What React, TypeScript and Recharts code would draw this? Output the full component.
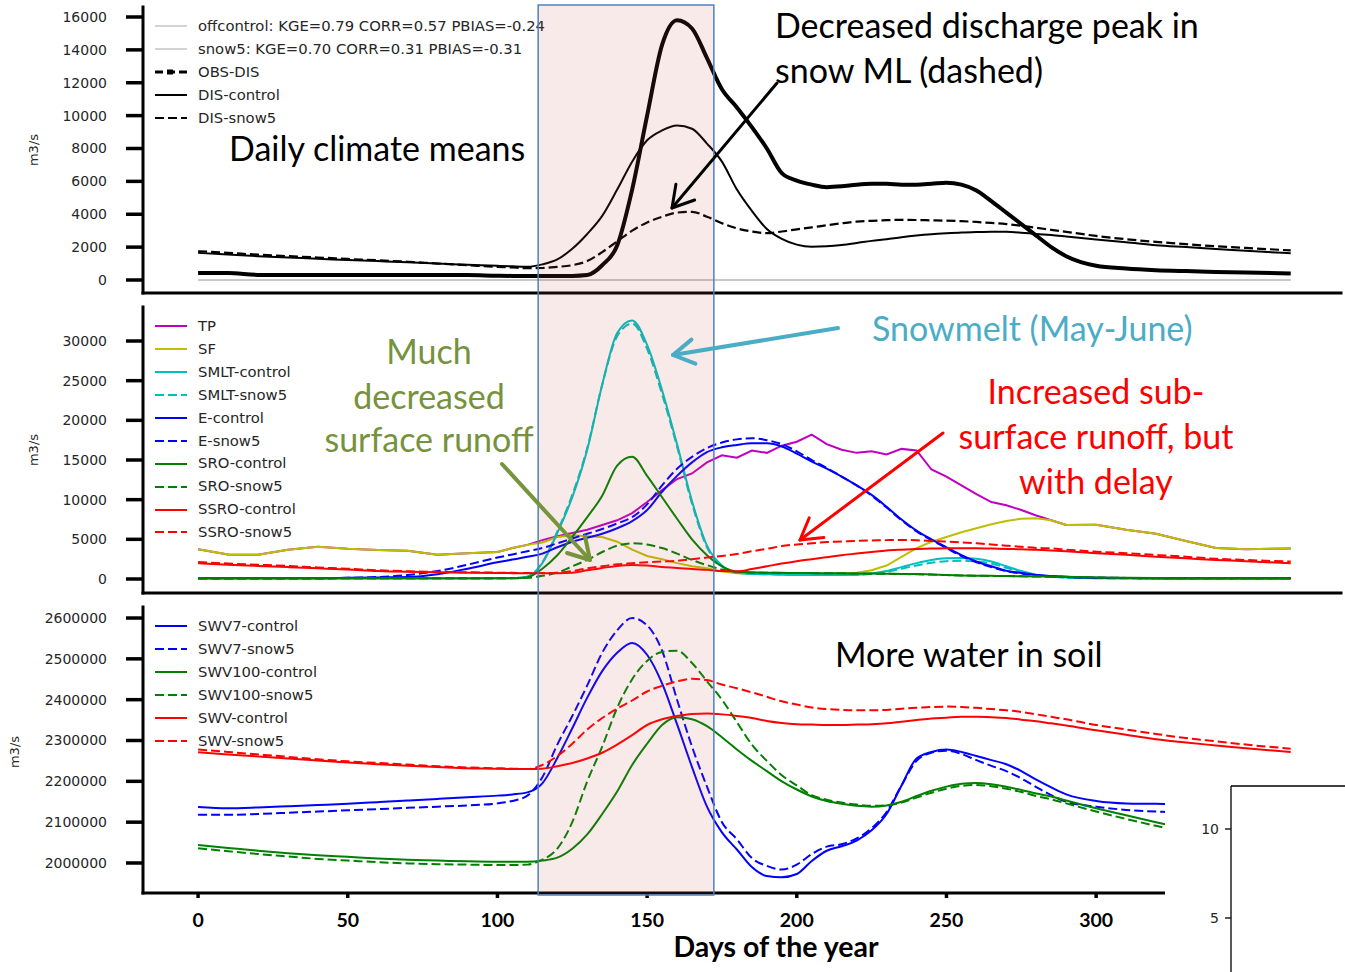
import { LineChart, Line, XAxis, YAxis, Legend } from 'recharts';

// day of year for every sample
const days = [
  0, 10, 20, 30, 40, 50, 60, 70, 80, 90, 100,
  105, 110, 115, 120, 125, 130, 135, 140, 145, 150,
  155, 160, 165, 170, 175, 180, 185, 190, 195, 200,
  205, 210, 215, 220, 225, 230, 235, 240, 245, 250,
  255, 260, 265, 270, 275, 280, 285, 290,
  300, 310, 320, 330, 340, 350, 365,
];

// --- discharge (top panel)
const offcontrolStat = [
  0, 0, 0, 0, 0, 0, 0, 0, 0, 0, 0,
  0, 0, 0, 0, 0, 0, 0, 0, 0, 0,
  0, 0, 0, 0, 0, 0, 0, 0, 0, 0,
  0, 0, 0, 0, 0, 0, 0, 0, 0, 0,
  0, 0, 0, 0, 0, 0, 0, 0,
  0, 0, 0, 0, 0, 0, 0,
];
const snow5Stat = [
  0, 0, 0, 0, 0, 0, 0, 0, 0, 0, 0,
  0, 0, 0, 0, 0, 0, 0, 0, 0, 0,
  0, 0, 0, 0, 0, 0, 0, 0, 0, 0,
  0, 0, 0, 0, 0, 0, 0, 0, 0, 0,
  0, 0, 0, 0, 0, 0, 0, 0,
  0, 0, 0, 0, 0, 0, 0,
];
const obsDis = [
  420, 420, 310, 300, 300, 300, 300, 300, 300, 300, 260,
  250, 250, 250, 250, 250, 300, 900, 2100, 5500, 10000,
  14300, 15800, 15300, 13500, 11600, 10500, 9300, 8000, 6500, 6050,
  5800, 5650, 5700, 5800, 5850, 5850, 5800, 5800, 5850, 5920,
  5800, 5450, 4800, 4100, 3400, 2700, 2000, 1450,
  870, 700, 600, 540, 490, 450, 400,
];
const disControl = [
  1650, 1550, 1450, 1370, 1290, 1220, 1150, 1080, 1000, 930, 860,
  830, 810, 950, 1250, 1900, 2800, 3900, 5500, 7200, 8500,
  9100, 9400, 9200, 8300, 7200, 5500, 4200, 3100, 2500, 2150,
  2020, 2050, 2130, 2250, 2380, 2480, 2600, 2700, 2780, 2840,
  2890, 2920, 2940, 2930, 2880, 2800, 2740, 2650,
  2460, 2300, 2120, 2000, 1880, 1780, 1620,
];
const disSnow5 = [
  1750, 1650, 1540, 1450, 1370, 1280, 1200, 1110, 1000, 900, 800,
  760, 720, 730, 800, 900, 1150, 1700, 2350, 3000, 3500,
  3850, 4100, 4150, 3850, 3450, 3140, 2950, 2850, 2950, 3080,
  3200, 3330, 3450, 3550, 3600, 3640, 3660, 3650, 3630, 3610,
  3580, 3530, 3470, 3400, 3300, 3180, 3050, 2930,
  2680, 2480, 2320, 2180, 2050, 1950, 1800,
];

// --- fluxes (middle panel)
const tp = [
  3750, 3100, 3050, 3700, 4050, 3800, 3650, 3550, 3050, 3250, 3400,
  3900, 4300, 4900, 5400, 5800, 6200, 6800, 7400, 8300, 9700,
  11200, 12600, 13300, 14700, 15600, 15300, 16200, 15900, 16800, 17300,
  18200, 17000, 16300, 15900, 16100, 15700, 16400, 16200, 13800, 12900,
  11800, 10700, 9700, 9300, 8700, 8000, 7400, 6800,
  6850, 6200, 5700, 4800, 3900, 3750, 3850,
];
const sf = [
  3750, 3100, 3050, 3700, 4050, 3800, 3650, 3550, 3050, 3250, 3400,
  3900, 4300, 4600, 5300, 5500, 5400, 5300, 4700, 3700, 2900,
  2500, 2000, 1600, 1350, 950, 720, 700, 700, 700, 700,
  700, 700, 720, 800, 1100, 1700, 2800, 3900, 4700, 5300,
  5900, 6400, 6900, 7300, 7600, 7650, 7400, 6800,
  6850, 6200, 5700, 4800, 3900, 3750, 3850,
];
const smltControl = [
  50, 50, 50, 50, 50, 50, 50, 50, 50, 50, 80,
  120, 300, 2000, 5800, 10300, 16300, 24500, 31000, 32600, 29500,
  23800, 17000, 9800, 4200, 1700, 800, 650, 600, 550, 500,
  500, 500, 500, 550, 700, 1000, 1500, 2000, 2400, 2600,
  2650, 2550, 2200, 1600, 1000, 550, 300, 200,
  100, 60, 50, 50, 50, 50, 50,
];
const smltSnow5 = [
  50, 50, 50, 50, 50, 50, 50, 50, 50, 50, 80,
  120, 300, 2100, 6000, 10600, 16500, 24500, 30600, 32200, 29000,
  23300, 16700, 9500, 4000, 1600, 800, 650, 600, 550, 500,
  500, 500, 500, 520, 650, 900, 1300, 1700, 2050, 2250,
  2300, 2200, 1950, 1400, 900, 500, 280, 180,
  100, 60, 50, 50, 50, 50, 50,
];
const eControl = [
  100, 100, 100, 100, 100, 150, 200, 250, 600, 1300, 2100,
  2450, 2800, 3200, 4000, 4700, 5200, 5700, 6400, 7300, 8700,
  11000, 13000, 14700, 16000, 16600, 16900, 17100, 17100, 16700, 15800,
  14800, 13900, 12900, 11800, 10600, 9100, 7500, 6100, 5000, 4000,
  3000, 2200, 1600, 1050, 750, 500, 380, 280,
  150, 120, 100, 100, 100, 100, 100,
];
const eSnow5 = [
  100, 100, 100, 100, 100, 150, 250, 500, 1000, 1800, 2700,
  3100, 3500, 3900, 4500, 5100, 5700, 6300, 7000, 7800, 9400,
  11800, 13900, 15400, 16500, 17200, 17600, 17750, 17500, 17000, 16100,
  15000, 14000, 12900, 11800, 10500, 9000, 7400, 6000, 4900, 3900,
  2900, 2100, 1500, 1000, 700, 450, 330, 250,
  150, 120, 100, 100, 100, 100, 100,
];
const sroControl = [
  100, 100, 100, 100, 100, 100, 100, 100, 100, 100, 100,
  100, 200, 1300, 3000, 5300, 7800, 10500, 14300, 15400, 13000,
  10300, 7600, 5000, 3000, 1600, 950, 850, 800, 780, 760,
  750, 730, 720, 700, 680, 660, 640, 620, 580, 500,
  450, 420, 400, 380, 350, 320, 300, 270,
  200, 150, 120, 100, 100, 100, 100,
];
const sroSnow5 = [
  100, 100, 100, 100, 100, 100, 100, 100, 100, 100, 100,
  100, 150, 400, 800, 1600, 2400, 3400, 4200, 4500, 4350,
  3900, 3200, 2400, 1750, 1200, 900, 800, 780, 760, 750,
  740, 720, 710, 690, 670, 650, 630, 600, 560, 490,
  440, 410, 390, 370, 340, 310, 290, 260,
  190, 140, 110, 100, 100, 100, 100,
];
const ssroControl = [
  1980, 1800, 1650, 1500, 1350, 1200, 1000, 900, 850, 800, 760,
  740, 720, 720, 730, 800, 1100, 1400, 1650, 1770, 1700,
  1500, 1400, 1250, 1150, 1000, 950, 1250, 1600, 1950, 2250,
  2500, 2750, 3000, 3200, 3400, 3600, 3700, 3780, 3830, 3870,
  3880, 3870, 3830, 3780, 3750, 3680, 3600, 3500,
  3250, 3050, 2800, 2600, 2400, 2250, 1980,
];
const ssroSnow5 = [
  2150, 1950, 1800, 1650, 1450, 1300, 1100, 980, 900, 850, 800,
  780, 760, 760, 800, 1000, 1350, 1600, 1850, 1980, 2100,
  2200, 2300, 2500, 2700, 2900, 3150, 3500, 3800, 4150, 4350,
  4500, 4650, 4720, 4800, 4850, 4900, 4920, 4880, 4800, 4710,
  4600, 4500, 4350, 4200, 4050, 3920, 3850, 3700,
  3450, 3250, 3030, 2800, 2550, 2400, 2190,
];

// --- soil water (bottom panel)
const swv7Control = [
  2137000, 2134000, 2136000, 2139000, 2142000, 2145000, 2149000, 2153000, 2157000, 2161000, 2165000,
  2168000, 2173000, 2195000, 2257000, 2330000, 2405000, 2470000, 2515000, 2539000, 2510000,
  2440000, 2340000, 2235000, 2138000, 2075000, 2033000, 1990000, 1968000, 1965000, 1973000,
  2005000, 2030000, 2041000, 2055000, 2080000, 2120000, 2190000, 2256000, 2272000, 2278000,
  2272000, 2262000, 2252000, 2242000, 2225000, 2204000, 2185000, 2168000,
  2152000, 2146000, 2145000, 2143000, 2141000, 2139000, 2137000,
];
const swv7Snow5 = [
  2118000, 2118000, 2120000, 2123000, 2126000, 2129000, 2132000, 2135000, 2138000, 2141000, 2146000,
  2152000, 2165000, 2210000, 2290000, 2360000, 2435000, 2515000, 2570000, 2600000, 2582000,
  2520000, 2400000, 2285000, 2187000, 2100000, 2058000, 2012000, 1993000, 1984000, 1996000,
  2022000, 2040000, 2046000, 2060000, 2085000, 2125000, 2190000, 2250000, 2270000, 2275000,
  2267000, 2252000, 2238000, 2225000, 2207000, 2186000, 2166000, 2150000,
  2138000, 2130000, 2126000, 2124000, 2122000, 2120000, 2118000,
];
const swv100Control = [
  2044000, 2037000, 2030000, 2024000, 2019000, 2015000, 2011000, 2008000, 2006000, 2004000, 2003000,
  2003000, 2003000, 2006000, 2013000, 2035000, 2070000, 2120000, 2175000, 2240000, 2292000,
  2338000, 2357000, 2352000, 2335000, 2308000, 2278000, 2250000, 2225000, 2200000, 2180000,
  2163000, 2152000, 2145000, 2140000, 2138000, 2141000, 2150000, 2164000, 2177000, 2187000,
  2194000, 2196000, 2193000, 2187000, 2179000, 2170000, 2163000, 2153000,
  2134000, 2117000, 2100000, 2084000, 2070000, 2058000, 2044000,
];
const swv100Snow5 = [
  2036000, 2029000, 2022000, 2016000, 2010000, 2006000, 2002000, 1999000, 1997000, 1996000, 1995000,
  1995000, 1996000, 2008000, 2035000, 2100000, 2200000, 2285000, 2380000, 2450000, 2495000,
  2517000, 2520000, 2490000, 2445000, 2400000, 2345000, 2290000, 2250000, 2215000, 2190000,
  2166000, 2155000, 2148000, 2143000, 2140000, 2141000, 2148000, 2160000, 2172000, 2182000,
  2189000, 2191000, 2188000, 2182000, 2174000, 2164000, 2156000, 2146000,
  2126000, 2108000, 2091000, 2075000, 2061000, 2050000, 2036000,
];
const swvControl = [
  2271000, 2266000, 2261000, 2256000, 2251000, 2246000, 2242000, 2238000, 2235000, 2232000, 2231000,
  2230000, 2230000, 2231000, 2237000, 2245000, 2256000, 2270000, 2290000, 2313000, 2338000,
  2352000, 2360000, 2365000, 2366000, 2364000, 2360000, 2355000, 2348000, 2343000, 2340000,
  2339000, 2338000, 2338000, 2339000, 2340000, 2342000, 2346000, 2350000, 2354000, 2356000,
  2358000, 2358000, 2357000, 2355000, 2351000, 2347000, 2342000, 2337000,
  2325000, 2314000, 2303000, 2295000, 2288000, 2281000, 2272000,
];
const swvSnow5 = [
  2278000, 2272000, 2266000, 2260000, 2254000, 2249000, 2245000, 2241000, 2237000, 2234000, 2232000,
  2231000, 2230000, 2240000, 2262000, 2292000, 2327000, 2355000, 2378000, 2398000, 2420000,
  2434000, 2445000, 2451000, 2448000, 2437000, 2428000, 2418000, 2407000, 2396000, 2388000,
  2381000, 2377000, 2375000, 2374000, 2374000, 2375000, 2378000, 2380000, 2382000, 2383000,
  2382000, 2380000, 2377000, 2374000, 2370000, 2364000, 2358000, 2352000,
  2338000, 2327000, 2316000, 2306000, 2298000, 2290000, 2280000,
];

// axis ticks
const xTicks = [0, 50, 100, 150, 200, 250, 300, 350];
const disTicks = [0, 2000, 4000, 6000, 8000, 10000, 12000, 14000, 16000];
const fluxTicks = [0, 5000, 10000, 15000, 20000, 25000, 30000];
const swvTicks = [2000000, 2100000, 2200000, 2300000, 2400000, 2500000, 2600000];
const fragmentTicks = [10, 5];

// snowmelt window (May-June) highlighted across all panels
const meltWindow = [113.6, 172.3];

// layout
const W = 1345;
const H = 972;
const PLOT_LEFT = 143;
const PLOT_RIGHT = 1341;
const X_MIN = -18.4;
const X_MAX = 381.8;
const xPx = (d: number) => PLOT_LEFT + ((d - X_MIN) / (X_MAX - X_MIN)) * (PLOT_RIGHT - PLOT_LEFT);

type SeriesDef = {
  key: string;
  name: string;
  values: number[];
  color: string;
  width: number;
  dash?: string;
  curve?: 'monotone' | 'linear';
  marker?: boolean;
};

const DASH = '9 4';

const disSeries: SeriesDef[] = [
  { key: 'offc', name: 'offcontrol: KGE=0.79 CORR=0.57 PBIAS=-0.24', values: offcontrolStat, color: '#c4c4c4', width: 1.5 },
  { key: 'offs', name: 'snow5: KGE=0.70 CORR=0.31 PBIAS=-0.31', values: snow5Stat, color: '#c4c4c4', width: 1.5 },
  { key: 'obs', name: 'OBS-DIS', values: obsDis, color: '#000', width: 4, marker: true },
  { key: 'disc', name: 'DIS-control', values: disControl, color: '#000', width: 2 },
  { key: 'diss', name: 'DIS-snow5', values: disSnow5, color: '#000', width: 2.2, dash: DASH },
];

const fluxSeries: SeriesDef[] = [
  { key: 'tp', name: 'TP', values: tp, color: '#bf00bf', width: 2, curve: 'linear' },
  { key: 'sf', name: 'SF', values: sf, color: '#bfbf00', width: 2, curve: 'linear' },
  { key: 'smltc', name: 'SMLT-control', values: smltControl, color: '#00bfbf', width: 2 },
  { key: 'smlts', name: 'SMLT-snow5', values: smltSnow5, color: '#00bfbf', width: 2, dash: DASH },
  { key: 'ec', name: 'E-control', values: eControl, color: '#0000ff', width: 2 },
  { key: 'es', name: 'E-snow5', values: eSnow5, color: '#0000ff', width: 2, dash: DASH },
  { key: 'sroc', name: 'SRO-control', values: sroControl, color: '#008000', width: 2 },
  { key: 'sros', name: 'SRO-snow5', values: sroSnow5, color: '#008000', width: 2, dash: DASH },
  { key: 'ssroc', name: 'SSRO-control', values: ssroControl, color: '#ff0000', width: 2 },
  { key: 'ssros', name: 'SSRO-snow5', values: ssroSnow5, color: '#ff0000', width: 2, dash: DASH },
];

const swvSeries: SeriesDef[] = [
  { key: 'v7c', name: 'SWV7-control', values: swv7Control, color: '#0000ff', width: 2 },
  { key: 'v7s', name: 'SWV7-snow5', values: swv7Snow5, color: '#0000ff', width: 2, dash: DASH },
  { key: 'v100c', name: 'SWV100-control', values: swv100Control, color: '#008000', width: 2 },
  { key: 'v100s', name: 'SWV100-snow5', values: swv100Snow5, color: '#008000', width: 2, dash: DASH },
  { key: 'vc', name: 'SWV-control', values: swvControl, color: '#ff0000', width: 2 },
  { key: 'vs', name: 'SWV-snow5', values: swvSnow5, color: '#ff0000', width: 2, dash: DASH },
];

const frame = { stroke: '#000', strokeWidth: 3, strokeLinecap: 'square' as const };
const tickStroke = { stroke: '#000', strokeWidth: 3.5 };

function LegendBox({ items }: { items: SeriesDef[] }) {
  return (
    <div style={{ fontFamily: 'DejaVu Sans', fontSize: 14.8, color: '#262626', lineHeight: 1 }}>
      {items.map((s) => (
        <div key={s.key} style={{ display: 'flex', alignItems: 'center', height: 22.9, whiteSpace: 'nowrap' }}>
          <svg width={45} height={10} style={{ flex: 'none' }}>
            <line
              x1={2}
              x2={34}
              y1={5}
              y2={5}
              stroke={s.color}
              strokeWidth={s.marker ? 3 : s.width}
              strokeDasharray={s.marker ? '8 4' : s.dash}
            />
            {s.marker && <rect x={14} y={2.5} width={6} height={5} fill={s.color} />}
          </svg>
          <span>{s.name}</span>
        </div>
      ))}
    </div>
  );
}

function DayTick(props: any) {
  const { x, y, payload } = props;
  return (
    <text x={x} y={y + 29} textAnchor="middle" fontFamily="Lato" fontWeight={700} fontSize={19.5} fill="#000">
      {payload.value}
    </text>
  );
}

type PanelProps = {
  top: number;
  series: SeriesDef[];
  yDomain: [number, number];
  yTicks: number[];
  bottom?: boolean;
};

function Panel({ top, series, yDomain, yTicks, bottom }: PanelProps) {
  const data = days.map((d, i) => {
    const row: Record<string, number> = { day: d };
    series.forEach((s) => {
      row[s.key] = s.values[i];
    });
    return row;
  });
  const axisH = bottom ? 60 : 17;
  return (
    <div style={{ position: 'absolute', left: 0, top }}>
      <LineChart
        width={W}
        height={7 + 286 + axisH}
        data={data}
        margin={{ top: 7, right: W - PLOT_RIGHT, bottom: 0, left: 0 }}
      >
        <XAxis
          dataKey="day"
          type="number"
          domain={[X_MIN, X_MAX]}
          ticks={xTicks}
          interval={0}
          allowDataOverflow
          height={axisH}
          tickSize={bottom ? 5 : 14}
          tickMargin={0}
          axisLine={frame}
          tickLine={tickStroke}
          tick={bottom ? (p: any) => <DayTick {...p} /> : false}
        />
        <XAxis
          xAxisId="top"
          orientation="top"
          dataKey="day"
          type="number"
          domain={[X_MIN, X_MAX]}
          allowDataOverflow
          height={0}
          tick={false}
          tickLine={false}
          axisLine={frame}
        />
        <YAxis
          type="number"
          domain={yDomain}
          ticks={yTicks}
          interval={0}
          allowDataOverflow
          width={PLOT_LEFT}
          tickSize={17}
          tickMargin={19}
          axisLine={frame}
          tickLine={tickStroke}
          tick={{ fill: '#262626', fontSize: 14, fontFamily: 'DejaVu Sans' }}
        />
        <YAxis
          yAxisId="right"
          orientation="right"
          type="number"
          domain={yDomain}
          allowDataOverflow
          width={0}
          tick={false}
          tickLine={false}
          axisLine={frame}
        />
        <Legend
          layout="vertical"
          align="center"
          verticalAlign="middle"
          wrapperStyle={{ left: 153, top: 15, width: 'auto' }}
          content={() => <LegendBox items={series} />}
        />
        {series.map((s) => (
          <Line
            key={s.key}
            dataKey={s.key}
            name={s.name}
            type={s.curve ?? 'monotone'}
            stroke={s.color}
            strokeWidth={s.width}
            strokeDasharray={s.dash}
            dot={false}
            activeDot={false}
            isAnimationActive={false}
          />
        ))}
      </LineChart>
    </div>
  );
}

function Arrow({ x1, y1, x2, y2, color, width, head = 20 }: { x1: number; y1: number; x2: number; y2: number; color: string; width: number; head?: number }) {
  const ang = Math.atan2(y2 - y1, x2 - x1);
  const a1 = ang + Math.PI * 0.83;
  const a2 = ang - Math.PI * 0.83;
  const p1 = `${x2 + head * Math.cos(a1)},${y2 + head * Math.sin(a1)}`;
  const p2 = `${x2 + head * Math.cos(a2)},${y2 + head * Math.sin(a2)}`;
  return (
    <g stroke={color} strokeWidth={width} fill="none" strokeLinecap="round" strokeLinejoin="round">
      <line x1={x1} y1={y1} x2={x2} y2={y2} />
      <polyline points={`${p1} ${x2},${y2} ${p2}`} />
    </g>
  );
}

const note = { fontFamily: 'Lato', fontSize: 34 } as const;

function Overlay() {
  const x0 = xPx(meltWindow[0]);
  const x1 = xPx(meltWindow[1]);
  return (
    <svg width={W} height={H} style={{ position: 'absolute', left: 0, top: 0, pointerEvents: 'none' }}>
      <rect x={x0} y={5} width={x1 - x0} height={890} fill="rgba(192,80,77,0.12)" stroke="#4f81bd" strokeWidth={1.5} />

      {/* axis titles */}
      <g fontFamily="DejaVu Sans" fontSize={13} fill="#262626" textAnchor="middle">
        <text x={33} y={150} transform="rotate(-90 33 150)" dominantBaseline="central">m3/s</text>
        <text x={33} y={450} transform="rotate(-90 33 450)" dominantBaseline="central">m3/s</text>
        <text x={14} y={752} transform="rotate(-90 14 752)" dominantBaseline="central">m3/s</text>
      </g>
      <text x={776} y={957} textAnchor="middle" fontFamily="Lato" fontWeight={700} fontSize={28.5} fill="#000">
        Days of the year
      </text>

      {/* annotations */}
      <g {...note} fill="#000">
        <text x={775} y={38}>Decreased discharge peak in</text>
        <text x={775} y={83}>snow ML (dashed)</text>
        <text x={229} y={161}>Daily climate means</text>
        <text x={835} y={667}>More water in soil</text>
      </g>
      <g {...note} fill="#76923c" textAnchor="middle">
        <text x={429} y={364}>Much</text>
        <text x={429} y={409}>decreased</text>
        <text x={429} y={452}>surface runoff</text>
      </g>
      <text {...note} x={872} y={341} fill="#4bacc6">Snowmelt (May-June)</text>
      <g {...note} fill="#ff0000" textAnchor="middle">
        <text x={1096} y={404}>Increased sub-</text>
        <text x={1096} y={449}>surface runoff, but</text>
        <text x={1096} y={494}>with delay</text>
      </g>

      <Arrow x1={777} y1={83} x2={672} y2={208} color="#000" width={3} head={24} />
      <Arrow x1={838} y1={328} x2={673} y2={355} color="#4bacc6" width={4} head={24} />
      <Arrow x1={502} y1={464} x2={590} y2={560} color="#77933c" width={4} head={24} />
      <Arrow x1={943} y1={433} x2={800} y2={540} color="#ff0000" width={3} head={24} />

      {/* corner of a neighbouring figure */}
      <rect x={1165} y={763} width={W - 1165} height={H - 763} fill="#fff" />
      <g stroke="#000" strokeWidth={1.3}>
        <line x1={1231} y1={786} x2={1231} y2={H} />
        <line x1={1231} y1={786} x2={W} y2={786} />
        <line x1={1225} y1={829} x2={1231} y2={829} />
        <line x1={1225} y1={918} x2={1231} y2={918} />
      </g>
      <g fontFamily="DejaVu Sans" fontSize={14} fill="#262626" textAnchor="end" dominantBaseline="central">
        <text x={1219} y={829}>{fragmentTicks[0]}</text>
        <text x={1219} y={918}>{fragmentTicks[1]}</text>
      </g>
    </svg>
  );
}

export default function App() {
  return (
    <div style={{ position: 'absolute', left: 0, top: 0, width: W, height: H, background: '#fff', fontFamily: 'DejaVu Sans', overflow: 'hidden' }}>
      <Panel top={0} series={disSeries} yDomain={[-791, 16608]} yTicks={disTicks} />
      <Panel top={300} series={fluxSeries} yDomain={[-1765, 34286]} yTicks={fluxTicks} />
      <Panel top={600} series={swvSeries} yDomain={[1926500, 2627000]} yTicks={swvTicks} bottom />
      <Overlay />
    </div>
  );
}
